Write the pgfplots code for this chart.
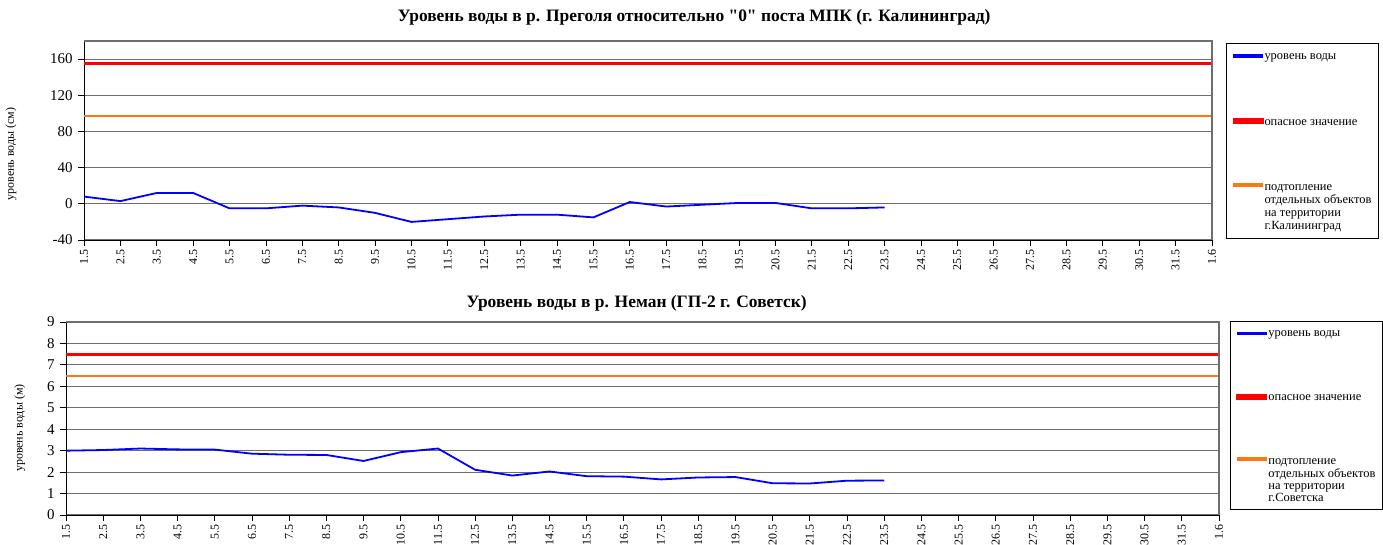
\documentclass[border=0pt]{standalone}
\usepackage{fontspec}
\setmainfont{Liberation Serif}
\usepackage{pgfplots}
\usepackage{pgfplotstable}
\pgfplotsset{compat=1.18}

\font\qbold="Liberation Serif/B" at 17.5pt

\definecolor{lineblue}{RGB}{0,0,255}
\definecolor{linered}{RGB}{255,0,0}
\definecolor{lineorange}{RGB}{255,119,20}
\definecolor{gridgray}{RGB}{110,110,110}

\pgfplotstableread{
x y
0 8
1 3
2 12
3 12
4 -5
5 -5
6 -2
7 -4
8 -10
9 -20
10 -17
11 -14
12 -12
13 -12
14 -15
15 2
16 -3
17 -1
18 1
19 1
20 -5
21 -5
22 -4
}\pregolya

\pgfplotstableread{
x y
0 3.00
1 3.03
2 3.10
3 3.06
4 3.05
5 2.86
6 2.81
7 2.80
8 2.52
9 2.93
10 3.10
11 2.11
12 1.84
13 2.03
14 1.81
15 1.79
16 1.66
17 1.75
18 1.77
19 1.48
20 1.47
21 1.60
22 1.61
}\neman

\pgfplotsset{
  base/.style={
    scale only axis,
    xmin=0, xmax=31,
    xtick={0,...,31},
    xticklabels={1.5,2.5,3.5,4.5,5.5,6.5,7.5,8.5,9.5,10.5,11.5,12.5,13.5,14.5,15.5,16.5,17.5,18.5,19.5,20.5,21.5,22.5,23.5,24.5,25.5,26.5,27.5,28.5,29.5,30.5,31.5,1.6},
    x tick label style={rotate=90, anchor=east, font=\fontsize{12}{13}\selectfont},
    y tick label style={font=\fontsize{15}{17}\selectfont, xshift=-2bp},
    /pgf/number format/assume math mode=true,
    tick align=outside, major tick length=6bp,
    tick style={black, line width=0.8bp},
    axis x line*=bottom, axis y line*=left,
    axis line style={-, black, line width=1bp},
    ymajorgrids, grid style={gridgray, line width=1.1bp},
    ylabel style={font=\fontsize{12}{14}\selectfont, anchor=center},
    every axis title shift=0pt,
    title style={font=\bfseries\fontsize{17.5}{19}\selectfont, anchor=base, yshift=0pt},
    legend cell align=left,
    legend image code/.code={\fill[##1] (0bp,-0.5\pgflinewidth) rectangle (28bp,0.5\pgflinewidth);},
    legend style={anchor=north west, draw=black, line width=1bp,
      font=\fontsize{12.5}{13}\selectfont, row sep=53bp,
      inner xsep=6bp, inner ysep=6bp, nodes={inner sep=1bp}},
    after end axis/.code={\draw[gridgray, line width=1.1bp] (rel axis cs:0,1) -- (rel axis cs:1,1) -- (rel axis cs:1,0);},
  }
}

\begin{document}
\begin{tikzpicture}
\useasboundingbox (0,0) rectangle (1383bp,-545bp);

\begin{axis}[base,
  at={(84bp,-240bp)}, anchor=south west,
  width=1128bp, height=199bp,
  ymin=-40, ymax=180, ytick={-40,0,40,80,120,160},
  ylabel={уровень воды (см)},
  ylabel style={at={(axis description cs:-0.0647,0.432)}},
  title={Уровень воды в р. Преголя относительно {\qbold"}0{\qbold"} поста МПК (г. Калининград)},
  title style={at={(axis description cs:0.541,1.1005)}},
  legend style={at={(axis description cs:1.0124,0.99)}},
]
\addplot[lineblue, line width=1.8bp] table[x=x,y=y] {\pregolya};
\addlegendentry{\strut уровень воды}
\addplot[linered, line width=3bp] coordinates {(0,155) (31,155)};
\addlegendentry{\strut опасное значение}
\addplot[lineorange, line width=2bp, legend image post style={yshift=21bp}] coordinates {(0,97) (31,97)};
\addlegendentry{\begin{tabular}[b]{@{}l@{}}подтопление\\отдельных объектов\\на территории\\г.Калининград\end{tabular}}
\end{axis}

\begin{axis}[base,
  at={(66bp,-515bp)}, anchor=south west,
  width=1153bp, height=193bp,
  ymin=0, ymax=9, ytick={0,1,...,9},
  ylabel={уровень воды (м)},
  ylabel style={at={(axis description cs:-0.04,0.45)}},
  title={Уровень воды в р. Неман (ГП-2 г. Советск)},
  title style={at={(axis description cs:0.495,1.075)}},
  legend style={at={(axis description cs:1.0095,1.005)}, row sep=52bp, font=\fontsize{12.5}{12}\selectfont},
]
\addplot[lineblue, line width=1.8bp] table[x=x,y=y] {\neman};
\addlegendentry{\strut уровень воды}
\addplot[linered, line width=3bp] coordinates {(0,7.5) (31,7.5)};
\addlegendentry{\strut опасное значение}
\addplot[lineorange, line width=2bp, legend image post style={yshift=20bp}] coordinates {(0,6.5) (31,6.5)};
\addlegendentry{\begin{tabular}[b]{@{}l@{}}подтопление\\отдельных объектов\\на территории\\г.Советска\end{tabular}}
\end{axis}
\end{tikzpicture}
\end{document}
